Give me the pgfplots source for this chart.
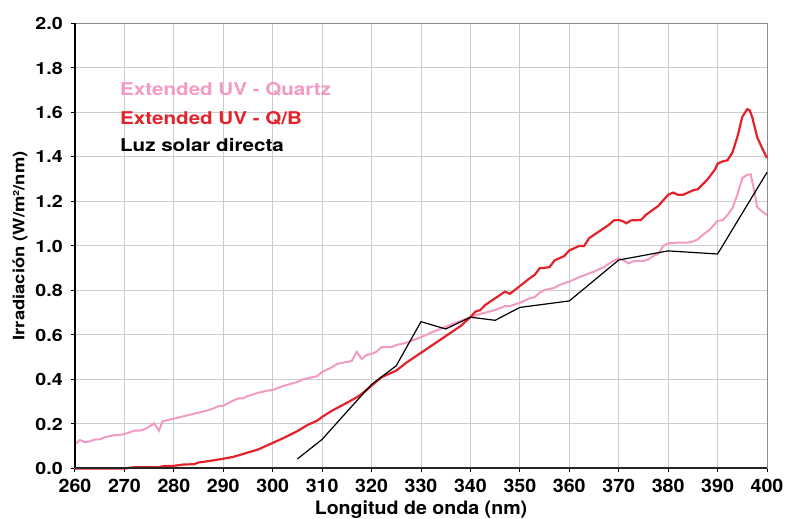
\documentclass[border=0pt]{standalone}
\usepackage{fontspec}
\setmainfont{TeX Gyre Heros}
\newfontfamily\fA{TeX Gyre Heros}[FakeStretch=1.06]
\newfontfamily\fB{TeX Gyre Heros}[FakeStretch=1.17]
\usepackage{pgfplots}
\pgfplotsset{compat=1.18}
\definecolor{pinkc}{HTML}{F39AC3}
\definecolor{redc}{HTML}{E3222B}
\definecolor{gridc}{HTML}{CCCCCC}
\definecolor{framec}{HTML}{8C8C8C}
\begin{document}
\begin{tikzpicture}
\begin{axis}[
  name=ax,
  width=692pt, height=445pt, scale only axis,
  xmin=260, xmax=400, ymin=0, ymax=2,
  xtick={260,270,280,290,300,310,320,330,340,350,360,370,380,390,400},
  ytick={0,0.2,0.4,0.6,0.8,1.0,1.2,1.4,1.6,1.8,2.0},
  xtick pos=bottom, ytick pos=left,
  tick align=outside, major tick length=4pt,
  tick style={black, line width=1pt},
  grid=major, major grid style={gridc, line width=1pt},
  axis line style={framec, line width=1pt},
  /pgf/number format/assume math mode=true,
  yticklabel style={/pgf/number format/fixed, /pgf/number format/fixed zerofill, /pgf/number format/precision=1},
  xticklabel style={/pgf/number format/fixed, /pgf/number format/precision=0, /pgf/number format/1000 sep={}},
  yticklabel style={font=\fB\bfseries\fontsize{16.8}{18}\selectfont, anchor=east, inner sep=0pt, xshift=-8pt},
  xticklabel style={font=\fA\bfseries\fontsize{18.5}{20}\selectfont, anchor=north, inner sep=0pt, yshift=-6pt},
  xlabel={Longitud de onda (nm)},
  ylabel={Irradiación (W/m²/nm)},
  xlabel style={font=\fA\bfseries\fontsize{18.5}{20}\selectfont, at={(axis description cs:0.5,0)}, anchor=base, yshift=-46pt},
  ylabel style={font=\fB\bfseries\fontsize{15.7}{18}\selectfont, at={(axis description cs:-0.0795,0.5)}, anchor=center},
  clip=false,
]
\addplot[pinkc, line width=2pt] coordinates {
(260,0.109) (261,0.128) (262,0.118) (263,0.122) (264,0.130) (265,0.131) (266,0.140) (267,0.145) (268,0.150) (269,0.151) (270,0.155) (271,0.162) (272,0.170) (273,0.170) (274,0.175) (275,0.188) (276,0.203) (277,0.170) (277.7,0.212) (280,0.224) (282,0.235) (285,0.251) (287,0.262) (288,0.270) (289,0.280) (290,0.282) (292,0.305) (293,0.315) (294,0.315) (295,0.326) (297,0.340) (298,0.345) (299,0.350) (300,0.353) (302,0.370) (305,0.389) (306,0.400) (307,0.405) (308,0.410) (309,0.415) (310,0.434) (312,0.455) (313,0.470) (315,0.479) (316,0.483) (317,0.524) (318,0.492) (319,0.510) (320,0.515) (321,0.525) (322,0.545) (324,0.545) (325,0.555) (327,0.565) (330,0.590) (332,0.610) (335,0.637) (337,0.655) (340,0.680) (342,0.695) (345,0.712) (347,0.730) (348,0.730) (350,0.745) (352,0.765) (353,0.770) (354,0.790) (355,0.802) (357,0.812) (358,0.825) (360,0.840) (362,0.860) (365,0.885) (367,0.905) (369,0.935) (370,0.945) (371,0.935) (372,0.922) (373,0.932) (375,0.933) (376,0.940) (377,0.955) (378,0.965) (379,1.000) (380,1.012) (382,1.015) (384,1.015) (385,1.020) (386,1.030) (387,1.050) (388.5,1.075) (390,1.114) (391,1.115) (392,1.139) (393,1.170) (394,1.230) (395,1.305) (396,1.320) (396.7,1.322) (397.5,1.240) (398,1.175) (399,1.155) (400,1.139)
};
\addplot[redc, line width=2.2pt] coordinates {
(260,0) (265,0) (270,0) (271,0.003) (272,0.006) (275,0.006) (277,0.006) (278,0.011) (280,0.012) (282,0.018) (284,0.019) (285,0.027) (287,0.033) (290,0.044) (292,0.052) (295,0.072) (297,0.085) (300,0.115) (302,0.135) (305,0.168) (307,0.195) (309,0.215) (310,0.232) (312,0.260) (315,0.295) (317,0.320) (318,0.335) (320,0.372) (322,0.410) (324,0.430) (325,0.440) (327,0.475) (330,0.520) (332,0.550) (335,0.595) (337,0.625) (338,0.640) (340,0.680) (341,0.705) (342,0.712) (343,0.735) (345,0.765) (347,0.795) (348,0.785) (350,0.820) (352,0.855) (353,0.870) (354,0.900) (355,0.902) (356,0.905) (357,0.935) (359,0.955) (360,0.980) (362,1.000) (363,1.000) (364,1.035) (366,1.065) (368,1.095) (369,1.115) (370,1.117) (371,1.110) (371.5,1.102) (372.5,1.115) (374.5,1.117) (375.5,1.140) (378,1.180) (380,1.230) (381,1.240) (382,1.230) (383,1.230) (385,1.250) (386,1.255) (388,1.300) (389.5,1.345) (390,1.370) (391,1.380) (392,1.385) (393,1.420) (394,1.490) (395,1.580) (396,1.615) (396.5,1.610) (397,1.580) (398,1.490) (398.8,1.450) (400,1.395)
};
\addplot[black, line width=1.2pt] coordinates {
(305,0.043) (310,0.131) (315,0.255) (320,0.378) (325,0.462) (330,0.660) (335,0.627) (340,0.680) (345,0.666) (350,0.724) (360,0.753) (370,0.937) (380,0.978) (390,0.964) (400,1.331)
};
\draw[black, line width=1.5pt] (rel axis cs:0,1) -- (rel axis cs:0,0);
\draw[black!85, line width=2pt] (rel axis cs:0,0) -- (rel axis cs:1,0);
\node[anchor=base west, font=\fB\bfseries\fontsize{17.6}{20}\selectfont, text=pinkc, inner sep=0pt] at (rel axis cs:0.065,0.839) {Extended UV - Quartz};
\node[anchor=base west, font=\fB\bfseries\fontsize{17.6}{20}\selectfont, text=redc, inner sep=0pt] at (rel axis cs:0.065,0.774) {Extended UV - Q/B};
\node[anchor=base west, font=\fB\bfseries\fontsize{17.6}{20}\selectfont, text=black, inner sep=0pt] at (rel axis cs:0.065,0.712) {Luz solar directa};
\coordinate (SW) at (rel axis cs:0,0);
\coordinate (NE) at (rel axis cs:1,1);
\end{axis}
\pgfresetboundingbox
\path ([xshift=-75pt,yshift=-50.5pt]SW) rectangle ([xshift=34pt,yshift=23.5pt]NE);
\end{tikzpicture}
\end{document}
